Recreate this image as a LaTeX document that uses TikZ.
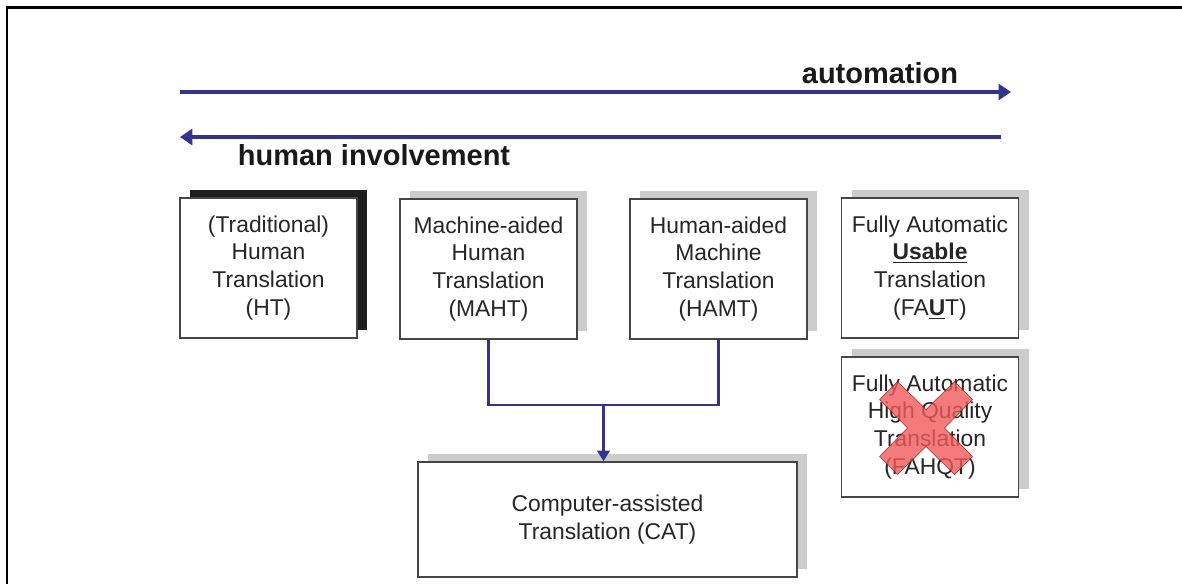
\documentclass[tikz,border=0pt]{standalone}
\usepackage{fontspec}
\setmainfont{Liberation Sans}
\usetikzlibrary{arrows.meta,shadows}
\definecolor{arrowblue}{RGB}{52,52,140}
\definecolor{boxline}{RGB}{70,70,70}
\definecolor{crossred}{RGB}{240,90,90}
\begin{document}
\begin{tikzpicture}[
    transbox/.style={draw=boxline, line width=0.9pt, fill=white, align=center,
      minimum width=3.54cm, minimum height=2.8cm, text=black!85,
      font=\fontsize{13}{15.9}\selectfont,
      drop shadow={shadow xshift=0.2cm, shadow yshift=0.16cm, fill=black!40, opacity=0.5}},
    darkshadow/.style={drop shadow={shadow xshift=0.2cm, shadow yshift=0.16cm, fill=black, opacity=0.85}},
    scale label/.style={font=\bfseries\fontsize{16.5}{19}\selectfont, text=black!90},
    flow/.style={arrowblue, line width=2pt},
    link/.style={arrowblue, line width=1.5pt}
  ]
  \useasboundingbox (0,0) rectangle (23.64,-11.68);
  % frame
  \draw[line width=1.7pt] (0.14,-11.68) -- (0.14,-0.14) -- (23.64,-0.14);
  % the two scales
  \coordinate (autoL) at (3.6,-1.84);
  \coordinate (autoR) at (20.22,-1.84);
  \coordinate (humR) at (20.02,-2.74);
  \coordinate (humL) at (3.6,-2.74);
  \draw[flow, -{Triangle[length=7pt,width=9pt]}] (autoL) -- (autoR);
  \draw[flow, -{Triangle[length=7pt,width=9pt]}] (humR) -- (humL);
  \node[scale label] (automation) at (17.6,-1.46) {automation};
  \node[scale label] (involvement) at (7.48,-3.1) {human involvement};
  % kinds of translation
  \node[transbox, darkshadow] (ht) at (5.37,-5.36) {(Traditional)\\Human\\Translation\\(HT)};
  \node[transbox] (maht) at (9.77,-5.38) {Machine-aided\\Human\\Translation\\(MAHT)};
  \node[transbox] (hamt) at (14.37,-5.38) {Human-aided\\Machine\\Translation\\(HAMT)};
  \node[transbox] (faut) at (18.6,-5.36) {Fully Automatic\\\textbf{\underline{Usable}}\\Translation\\(FA\textbf{\underline{U}}T)};
  \node[transbox] (fahqt) at (18.6,-8.54) {Fully Automatic\\High Quality\\Translation\\(FAHQT)};
  \node[transbox, minimum width=7.58cm, minimum height=2.3cm] (cat) at (12.15,-10.39) {Computer-assisted\\Translation (CAT)};
  % joining MAHT and HAMT into CAT
  \coordinate (join) at (12.07,-8.1);
  \draw[link] (maht.south) |- (join) -| (hamt.south);
  \draw[link, -{Triangle[length=6pt,width=7pt]}] (join) -- (join |- cat.north);
  % crossed out
  \begin{scope}[shift={(18.52,-8.56)}]
    \fill[crossred, opacity=0.8, draw=red!50!black, line width=0.4pt, draw opacity=0.6]
      (0.37,0) -- (0.93,0.57) -- (0.57,0.93) -- (0,0.37) -- (-0.57,0.93) -- (-0.93,0.57)
      -- (-0.37,0) -- (-0.93,-0.57) -- (-0.57,-0.93) -- (0,-0.37) -- (0.57,-0.93)
      -- (0.93,-0.57) -- cycle;
  \end{scope}
\end{tikzpicture}
\end{document}
